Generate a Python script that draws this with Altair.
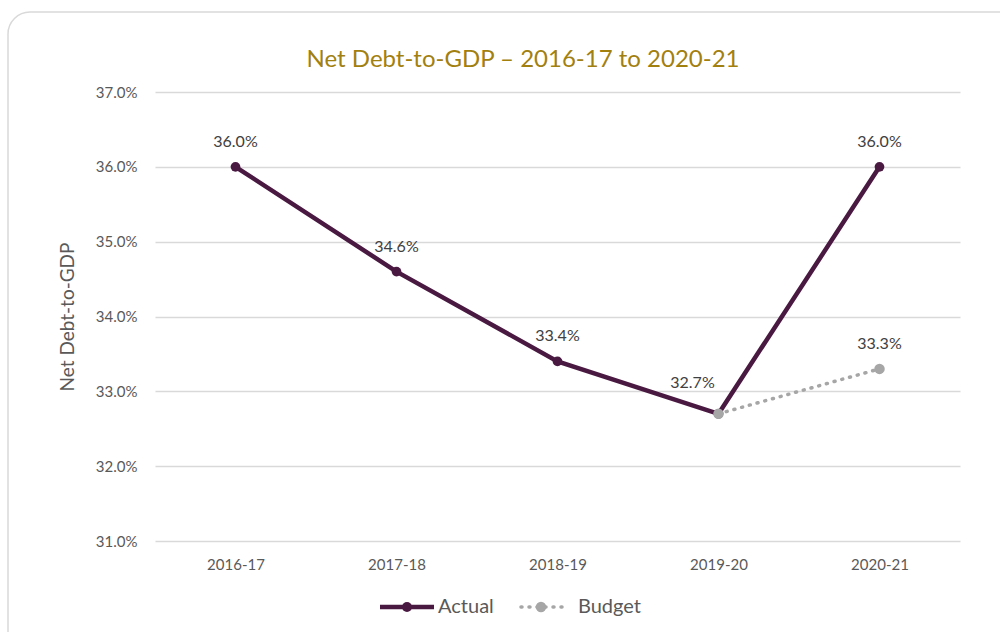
import altair as alt
import pandas as pd

years = ["2016-17", "2017-18", "2018-19", "2019-20", "2020-21"]
actual = [36.0, 34.6, 33.4, 32.7, 36.0]
budget_years = ["2019-20", "2020-21"]
budget = [32.7, 33.3]

FONT = "Lato"
PURPLE = "#4a1942"
GRAY = "#a6a6a6"
TXT = "#595959"

df_a = pd.DataFrame({"year": years, "value": actual})
df_a["label"] = df_a["value"].map(lambda v: f"{v:.1f}%")
df_b = pd.DataFrame({"year": budget_years, "value": budget})
df_b["label"] = df_b["value"].map(lambda v: f"{v:.1f}%")

W, H = 805, 449
L, T = 155, 92

xs = alt.X("year:N", sort=years, scale=alt.Scale(type="point", padding=0.5),
           axis=alt.Axis(title=None, domain=False, ticks=False, grid=False, labelAngle=0,
                         labelAlign="center", labelBaseline="top",
                         labelPadding=16, labelFontSize=15, labelColor=TXT, labelFont=FONT))
ys = alt.Y("value:Q", scale=alt.Scale(domain=[31, 37], nice=False, zero=False),
           axis=alt.Axis(title="Net Debt-to-GDP", titleFontSize=19, titleColor=TXT, titleFont=FONT,
                         titleFontWeight="normal", titlePadding=18,
                         values=[31, 32, 33, 34, 35, 36, 37], labelExpr="format(datum.value, '.1f') + '%'",
                         domain=False, ticks=False, gridColor="#d9d9d9", gridWidth=1.3,
                         labelPadding=18, labelFontSize=15, labelColor=TXT, labelFont=FONT))

dummy = pd.DataFrame({"k": [0]})

border = alt.Chart(dummy).mark_rect(fillOpacity=0, stroke="#d9d9d9", strokeWidth=1.5, cornerRadius=22).encode(
    x=alt.value(8 - L), x2=alt.value(1040 - L), y=alt.value(12 - T), y2=alt.value(680 - T))

base_a = alt.Chart(df_a).encode(x=xs, y=ys)
base_b = alt.Chart(df_b).encode(x=alt.X("year:N", sort=years), y="value:Q")

line_b = base_b.mark_line(color=GRAY, strokeWidth=3.5, strokeDash=[1, 7], strokeCap="round")
line_a = base_a.mark_line(color=PURPLE, strokeWidth=4.5)
pts_a = base_a.mark_circle(color=PURPLE, size=95, opacity=1)
pts_b = base_b.mark_circle(color=GRAY, size=110, opacity=1)

text_a = base_a.transform_filter(alt.datum.year != "2019-20").mark_text(
    dy=-25, fontSize=16, color="#404040", font=FONT).encode(text="label:N")
text_a2 = base_a.transform_filter(alt.datum.year == "2019-20").mark_text(
    dy=-31, dx=-26, fontSize=16, color="#404040", font=FONT).encode(text="label:N")
text_b = base_b.transform_filter(alt.datum.year == "2020-21").mark_text(
    dy=-25, fontSize=16, color="#404040", font=FONT).encode(text="label:N")

title = alt.Chart(dummy).mark_text(text="Net Debt-to-GDP – 2016-17 to 2020-21", fontSize=24,
                                   color="#a2800f", font=FONT, baseline="middle").encode(
    x=alt.value(523 - L), y=alt.value(60 - T))

LY = 607 - T
leg_a_line = alt.Chart(dummy).mark_rule(color=PURPLE, strokeWidth=4.5).encode(
    x=alt.value(380 - L), x2=alt.value(434 - L), y=alt.value(LY))
leg_a_pt = alt.Chart(dummy).mark_circle(color=PURPLE, size=100, opacity=1).encode(
    x=alt.value(407 - L), y=alt.value(LY))
leg_a_txt = alt.Chart(dummy).mark_text(text="Actual", fontSize=20, color=TXT, font=FONT,
                                       align="left", baseline="middle").encode(
    x=alt.value(438 - L), y=alt.value(LY))
leg_b_line = alt.Chart(dummy).mark_rule(color=GRAY, strokeWidth=3.5, strokeDash=[1, 7], strokeCap="round").encode(
    x=alt.value(521 - L), x2=alt.value(565 - L), y=alt.value(LY))
leg_b_pt = alt.Chart(dummy).mark_circle(color=GRAY, size=110, opacity=1).encode(
    x=alt.value(541 - L), y=alt.value(LY))
leg_b_txt = alt.Chart(dummy).mark_text(text="Budget", fontSize=20, color=TXT, font=FONT,
                                       align="left", baseline="middle").encode(
    x=alt.value(578 - L), y=alt.value(LY))

chart = alt.layer(border, line_b, line_a, pts_a, pts_b, text_a, text_a2, text_b, title,
                  leg_a_line, leg_a_pt, leg_a_txt, leg_b_line, leg_b_pt, leg_b_txt).properties(
    width=W, height=H,
    autosize=alt.AutoSizeParams(type="none"),
    padding={"left": L, "top": T, "right": 1000 - L - W, "bottom": 632 - T - H},
    background="white",
).configure_view(stroke=None)

chart.save("out.html", embed_options={"renderer": "svg", "actions": False})
